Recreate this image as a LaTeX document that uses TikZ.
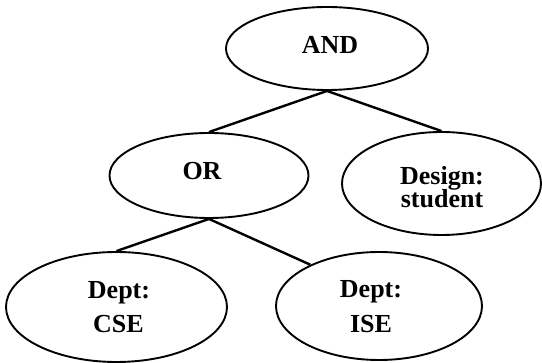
\documentclass[tikz,border=0pt]{standalone}
\usepackage{fontspec}
\setmainfont{Liberation Serif}
\usetikzlibrary{shapes.geometric}
\tikzset{
  ell/.style={draw, ellipse, inner sep=0pt, line width=0.95pt},
  conn/.style={line width=1.2pt},
  lbl/.style={anchor=base, inner sep=0pt, font=\fontsize{13}{15}\selectfont\bfseries}
}
\begin{document}
\begin{tikzpicture}[x=0.5pt, y=-0.5pt]
\useasboundingbox (0,0) rectangle (542,363);
% ellipses (sizes in pt = 2*r px * 0.5)
\node[ell, minimum width=202pt*0.5, minimum height=83pt*0.5] (AND) at (327,48.5) {};
\node[ell, minimum width=199pt*0.5, minimum height=85pt*0.5] (OR) at (209,175.5) {};
\node[ell, minimum width=199pt*0.5, minimum height=103pt*0.5] (Design) at (441.5,183.5) {};
\node[ell, minimum width=221pt*0.5, minimum height=110pt*0.5] (CSE) at (116.5,307) {};
\node[ell, minimum width=206pt*0.5, minimum height=108pt*0.5] (ISE) at (379,306) {};
% labels
\node[lbl] (tAND) at (330,54) {AND};
\node[lbl] (tOR) at (202,180) {OR};
\node[lbl] (tDes1) at (442,185) {Design:};
\node[lbl] (tDes2) at (442,208) {student};
\node[lbl] (tCSE1) at (119,299) {Dept:};
\node[lbl] (tCSE2) at (118.5,333) {CSE};
\node[lbl] (tISE1) at (371,298) {Dept:};
\node[lbl] (tISE2) at (371,333) {ISE};
% connectors
\draw[conn] (AND.south) -- (OR.north);
\draw[conn] (AND.south) -- (Design.north);
\draw[conn] (OR.south) -- (CSE.north);
\draw[conn] (OR.south) -- (ISE.149);
\end{tikzpicture}
\end{document}
